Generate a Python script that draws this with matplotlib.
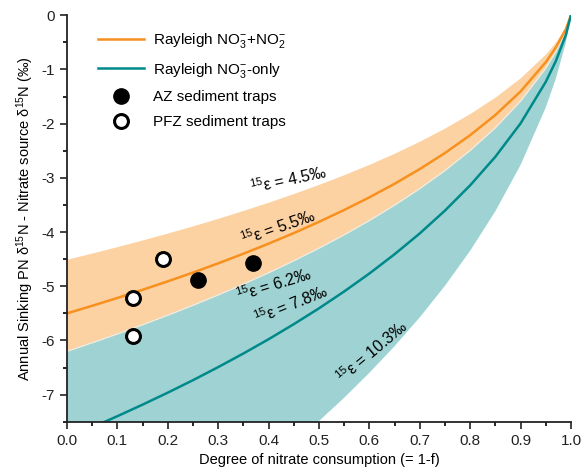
import matplotlib
matplotlib.use("Agg")
import matplotlib.pyplot as plt
from matplotlib.ticker import MultipleLocator

plt.rcParams['font.family'] = ['Liberation Sans', 'DejaVu Sans']
plt.rcParams['mathtext.fontset'] = 'custom'
plt.rcParams['mathtext.rm'] = 'Liberation Sans'
plt.rcParams['mathtext.it'] = 'Liberation Sans'

# degree of nitrate consumption (1-f)
x = [0.0, 0.05, 0.1, 0.15, 0.2, 0.25, 0.3, 0.35, 0.4, 0.45, 0.5, 0.55, 0.6,
     0.65, 0.7, 0.75, 0.8, 0.85, 0.9, 0.95, 0.97, 0.99, 1.0]

# curves, one per epsilon
eps_45 = [-4.5, -4.386, -4.267, -4.144, -4.017, -3.884, -3.745, -3.600, -3.448,
          -3.288, -3.119, -2.940, -2.749, -2.544, -2.322, -2.079, -1.811,
          -1.507, -1.151, -0.710, -0.488, -0.209, 0.0]
eps_55 = [-5.5, -5.360, -5.215, -5.065, -4.909, -4.747, -4.577, -4.400, -4.214,
          -4.019, -3.812, -3.593, -3.360, -3.109, -2.838, -2.542, -2.213,
          -1.841, -1.407, -0.867, -0.596, -0.256, 0.0]
eps_62 = [-6.2, -6.042, -5.879, -5.710, -5.534, -5.351, -5.160, -4.960, -4.751,
          -4.530, -4.298, -4.051, -3.787, -3.505, -3.199, -2.865, -2.495,
          -2.076, -1.586, -0.978, -0.672, -0.288, 0.0]
eps_78 = [-7.8, -7.602, -7.396, -7.183, -6.962, -6.732, -6.491, -6.240, -5.977,
          -5.699, -5.407, -5.096, -4.765, -4.409, -4.025, -3.604, -3.138,
          -2.611, -1.996, -1.230, -0.846, -0.363, 0.0]
eps_103 = [-10.8, -10.525, -10.241, -9.946, -9.640, -9.321, -8.988, -8.640,
           -8.275, -7.891, -7.486, -7.056, -6.597, -6.105, -5.573, -4.991,
           -4.345, -3.616, -2.763, -1.703, -1.171, -0.502, 0.0]

az_x = [0.26, 0.37]
az_y = [-4.89, -4.57]
pfz_x = [0.19, 0.13, 0.13]
pfz_y = [-4.49, -5.22, -5.91]

orange = '#f7901e'
orange_fill = '#fdd2a2'
teal = '#00898a'
teal_fill = '#9fd3d3'

fig = plt.figure(figsize=(5.88, 4.75), dpi=100)
ax = fig.add_axes([0.114, 0.112, 0.857, 0.856])

ax.fill_between(x, eps_103, eps_62, color=teal_fill, lw=0)
ax.fill_between(x, eps_62, eps_45, color=orange_fill, lw=0)
ax.plot(x, eps_62, color='#e8f0ee', lw=0.8)
ax.plot(x, eps_55, color=orange, lw=1.8, label='Rayleigh NO$_3^{-}$+NO$_2^{-}$')
ax.plot(x, eps_78, color=teal, lw=1.8, label='Rayleigh NO$_3^{-}$-only')
ax.plot(az_x, az_y, 'o', color='black', ms=11, ls='none', label='AZ sediment traps')
ax.plot(pfz_x, pfz_y, 'o', mfc='white', mec='black', mew=2.2, ms=10, ls='none',
        label='PFZ sediment traps')

# epsilon labels
lab = dict(fontsize=11.5, ha='center', va='center')
ax.text(0.44, -3.04, r'$^{15}$ε = 4.5‰', rotation=12, **lab)
ax.text(0.42, -3.92, r'$^{15}$ε = 5.5‰', rotation=19, **lab)
ax.text(0.41, -4.97, r'$^{15}$ε = 6.2‰', rotation=17, **lab)
ax.text(0.445, -5.34, r'$^{15}$ε = 7.8‰', rotation=22, **lab)
ax.text(0.605, -6.2, r'$^{15}$ε = 10.3‰', rotation=40, **lab)

ax.set_xlim(0, 1.0)
ax.set_ylim(-7.5, 0)
ax.xaxis.set_major_locator(MultipleLocator(0.1))
ax.xaxis.set_minor_locator(MultipleLocator(0.05))
ax.yaxis.set_major_locator(MultipleLocator(1))
ax.yaxis.set_minor_locator(MultipleLocator(0.5))
ax.xaxis.set_major_formatter(plt.FormatStrFormatter('%.1f'))
ax.yaxis.set_major_formatter(plt.FormatStrFormatter('%d'))
ax.tick_params(which='major', length=5, width=1.2, labelsize=11, colors='#222222')
ax.tick_params(which='minor', length=3, width=1.2)
for s in ['top', 'right']:
    ax.spines[s].set_visible(False)
for s in ['left', 'bottom']:
    ax.spines[s].set_linewidth(1.3)
    ax.spines[s].set_color('#222222')

ax.set_xlabel('Degree of nitrate consumption (= 1-f)', fontsize=10.5)
ax.set_ylabel('Annual Sinking PN δ$^{15}$N - Nitrate source δ$^{15}$N (‰)', fontsize=10.5)

ax.legend(loc='upper left', frameon=False, fontsize=11, bbox_to_anchor=(0.035, 0.995),
          labelspacing=0.7, handlelength=3.0, handletextpad=0.6)

fig.savefig('out.png', dpi=100)
